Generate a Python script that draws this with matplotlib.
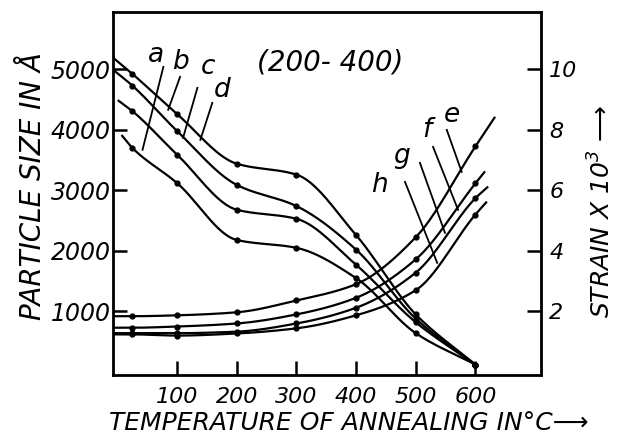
import matplotlib.pyplot as plt
import numpy as np

# annealing temperatures of the measured points
temp = [25, 100, 200, 300, 400, 500, 600]

# particle size in angstrom (left axis)
size_a = [3700, 3120, 2180, 2050, 1550, 640, 120]
size_b = [4310, 3590, 2680, 2530, 1770, 820, 120]
size_c = [4730, 3980, 3090, 2740, 2020, 880, 120]
size_d = [4925, 4260, 3440, 3260, 2260, 950, 120]
# where the drawn lines begin at the left
size_start_temp = [8, 2, -7, -7]
size_start = [3900, 4480, 4990, 5190]

# strain x 10^3 (right axis)
strain_e = [1.84, 1.87, 1.97, 2.36, 2.9, 4.45, 7.45]
strain_f = [1.46, 1.5, 1.6, 1.9, 2.45, 3.72, 6.23]
strain_g = [1.28, 1.28, 1.33, 1.6, 2.12, 3.28, 5.74]
strain_h = [1.24, 1.2, 1.27, 1.44, 1.87, 2.7, 5.2]
# where the drawn lines end at the right
strain_end_temp = [632, 615, 620, 618]
strain_end = [8.4, 6.6, 6.1, 5.6]

x_ticks = [100, 200, 300, 400, 500, 600]
size_ticks = [1000, 2000, 3000, 4000, 5000]
strain_ticks = [2, 4, 6, 8, 10]


def pchip(x, y, xs):
    # monotone cubic curve through the points, just for drawing
    x = np.asarray(x, float)
    y = np.asarray(y, float)
    h = np.diff(x)
    d = np.diff(y) / h
    m = np.zeros_like(y)
    for k in range(1, len(x) - 1):
        if d[k - 1] * d[k] > 0:
            w1 = 2 * h[k] + h[k - 1]
            w2 = h[k] + 2 * h[k - 1]
            m[k] = (w1 + w2) / (w1 / d[k - 1] + w2 / d[k])
    m[0] = d[0]
    m[-1] = d[-1]
    idx = np.clip(np.searchsorted(x, xs) - 1, 0, len(x) - 2)
    t = (xs - x[idx]) / h[idx]
    h00 = 2 * t ** 3 - 3 * t ** 2 + 1
    h10 = t ** 3 - 2 * t ** 2 + t
    h01 = -2 * t ** 3 + 3 * t ** 2
    h11 = t ** 3 - t ** 2
    return h00 * y[idx] + h10 * h[idx] * m[idx] + h01 * y[idx + 1] + h11 * h[idx] * m[idx + 1]


plt.rcParams['font.family'] = 'DejaVu Sans'
plt.rcParams['font.style'] = 'italic'

fig = plt.figure(figsize=(6.19, 4.38), dpi=100)
ax = fig.add_axes([0.183, 0.144, 0.691, 0.829])
ax2 = ax.twinx()

lw = 1.6
sizes = [size_a, size_b, size_c, size_d]
for vals, t0, v0 in zip(sizes, size_start_temp, size_start):
    xs = [t0] + temp
    ys = [v0] + vals
    xx = np.linspace(xs[0], xs[-1], 300)
    ax.plot(xx, pchip(xs, ys, xx), color='black', lw=lw)
    ax.plot(temp, vals, 'o', color='black', ms=3.5)

strains = [strain_e, strain_f, strain_g, strain_h]
for vals, t1, v1 in zip(strains, strain_end_temp, strain_end):
    xs = [-7] + temp + [t1]
    ys = [vals[0]] + vals + [v1]
    xx = np.linspace(xs[0], xs[-1], 300)
    ax2.plot(xx, pchip(xs, ys, xx), color='black', lw=lw)
    ax2.plot(temp, vals, 'o', color='black', ms=3.5)

ax.set_xlim(-7, 710)
ax.set_ylim(-50, 5950)
ax2.set_ylim(-0.1, 11.9)

ax.set_xticks(x_ticks)
ax.set_yticks(size_ticks)
ax2.set_yticks(strain_ticks)
ax.tick_params(axis='both', direction='in', length=10, width=1.8, pad=2)
ax.tick_params(axis='y', labelsize=17)
ax.tick_params(axis='x', labelsize=16, pad=9)
ax2.tick_params(axis='y', direction='in', length=10, width=1.8, labelsize=16, pad=6)
for sp in ax2.spines.values():
    sp.set_linewidth(2)

ax.set_xlabel('TEMPERATURE OF ANNEALING IN°C⟶', fontsize=18)
ax.xaxis.set_label_coords(0.55, -0.1)
ax.set_ylabel('PARTICLE SIZE IN Å', fontsize=20)
ax.yaxis.set_label_coords(-0.155, 0.52)
ax2.set_ylabel('STRAIN X 10$^3$ ⟶', fontsize=18)
ax2.yaxis.set_label_coords(1.11, 0.45)

ax.text(356, 5120, '(200- 400)', fontsize=20, ha='center', va='center')

# curve letters
letters = ['a', 'b', 'c', 'd', 'e', 'f', 'g', 'h']
letter_x = [64, 106, 151, 176, 561, 519, 477, 440]
letter_y = [5240, 5120, 5040, 4660, 4250, 4000, 3560, 3090]
for s, lx, ly in zip(letters, letter_x, letter_y):
    ax.text(lx, ly, s, fontsize=19, ha='center', va='center')

# pointer lines from the letters to the curves
ax.plot([77, 42], [5041, 3669], color='black', lw=1.3)
ax.plot([105, 85], [4876, 4331], color='black', lw=1.3)
ax.plot([134, 110], [4694, 3868], color='black', lw=1.3)
ax.plot([159, 139], [4446, 3835], color='black', lw=1.3)
ax.plot([552, 577], [4000, 3306], color='black', lw=1.3)
ax.plot([529, 571], [3719, 2678], color='black', lw=1.3)
ax.plot([507, 549], [3455, 2298], color='black', lw=1.3)
ax.plot([482, 536], [3140, 1802], color='black', lw=1.3)

fig.savefig('out.png', dpi=100)
